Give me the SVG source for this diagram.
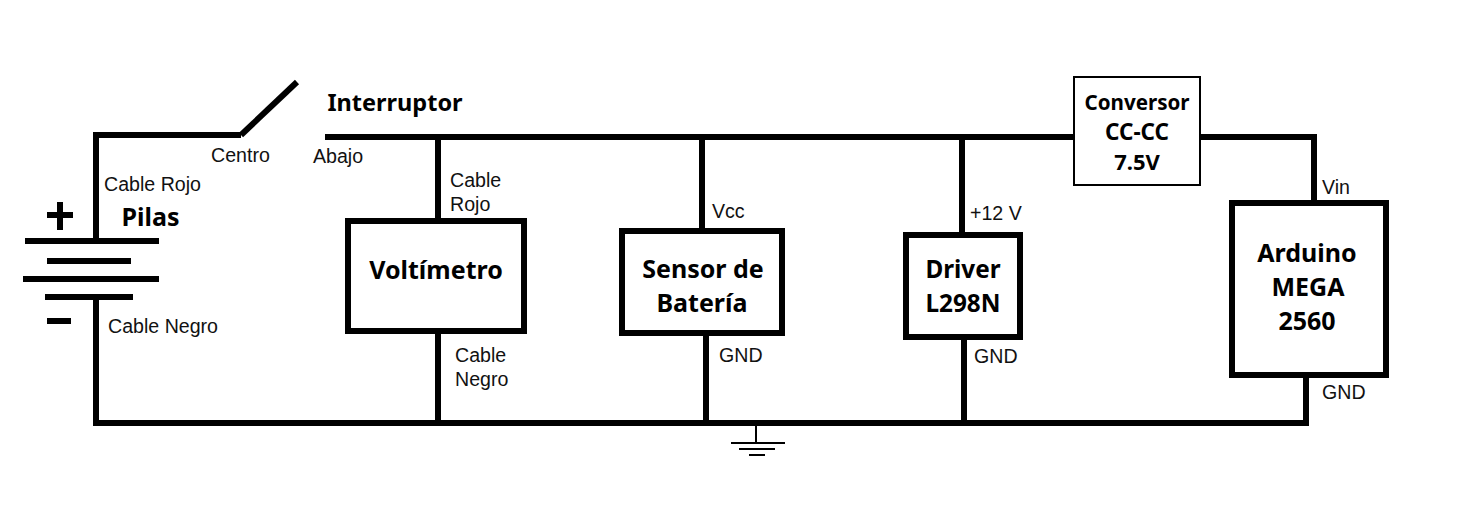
<svg xmlns="http://www.w3.org/2000/svg" width="1457" height="523" viewBox="0 0 1457 523">
<style>
.w{fill:none;stroke:#000;stroke-width:6;shape-rendering:crispEdges}
.g{fill:none;stroke:#000;stroke-width:2;shape-rendering:crispEdges}
.b{fill:#fff;stroke:#000;stroke-width:6;shape-rendering:crispEdges}
.c{fill:#fff;stroke:#000;stroke-width:2;shape-rendering:crispEdges}
.s{fill:#000;shape-rendering:crispEdges}
text{fill:#000}
.l{font:19.6px "Liberation Sans",Arial,sans-serif;fill:#111}
.t{font:bold 25px "Noto Sans",Tahoma,sans-serif;text-anchor:middle}
.t2{font:bold 22px "Noto Sans",Tahoma,sans-serif;text-anchor:middle}
</style>
<rect width="1457" height="523" fill="#fff"/>
<g id="connectors">
<path class="w" d="M241 135H96V241"/>
<path d="M241 135L297 82" fill="none" stroke="#000" stroke-width="6"/>
<path class="w" d="M325 137H1074"/>
<path class="w" d="M1200 137H1314V203"/>
<path class="w" d="M96 297V423H1306V375"/>
<path class="w" d="M438 137V221"/>
<path class="w" d="M438 331V423"/>
<path class="w" d="M702 137V231"/>
<path class="w" d="M706 333V423"/>
<path class="w" d="M962 137V235"/>
<path class="w" d="M964 337V423"/>
<text class="l" x="211" y="162">Centro</text>
<text class="l" x="313" y="163">Abajo</text>
<text class="l" x="104" y="191">Cable Rojo</text>
<text class="l" x="108" y="333">Cable Negro</text>
<text class="l" x="450" y="187">Cable</text>
<text class="l" x="450" y="211">Rojo</text>
<text class="l" x="455" y="362">Cable</text>
<text class="l" x="455" y="386">Negro</text>
<text class="l" x="712" y="218">Vcc</text>
<text class="l" x="719" y="362">GND</text>
<text class="l" x="970" y="220">+12 V</text>
<text class="l" x="974" y="363">GND</text>
<text class="l" x="1322" y="194">Vin</text>
<text class="l" x="1322" y="399">GND</text>
</g>
<g id="battery">
<path class="w" d="M25 241H159M47 261H131M23 279H159M45 297H133"/>
<rect class="s" x="47" y="212" width="26" height="6"/>
<rect class="s" x="57" y="202" width="6" height="28"/>
<rect class="s" x="47" y="318" width="24" height="6"/>
<text class="t" x="150.500" y="226">Pilas</text>
</g>
<g id="interruptor"><text class="t" style="font-size:23.5px" x="395" y="111">Interruptor</text></g>
<g id="voltimetro"><rect class="b" x="348" y="221" width="176" height="110"/><text class="t" x="436" y="279">Voltímetro</text></g>
<g id="sensor"><rect class="b" x="622" y="231" width="160" height="102"/><text class="t" x="703" y="278">Sensor de</text><text class="t" x="702" y="312">Batería</text></g>
<g id="driver"><rect class="b" x="906" y="235" width="114" height="102"/><text class="t" style="font-size:24.300px" x="963" y="278">Driver</text><text class="t" style="font-size:24.300px" x="963" y="312">L298N</text></g>
<g id="conversor"><rect class="c" x="1074" y="77" width="126" height="108"/><text class="t2" style="font-size:20.600px" x="1137" y="110">Conversor</text><text class="t2" style="font-size:22.500px" x="1137" y="140">CC-CC</text><text class="t2" x="1137" y="170">7.5V</text></g>
<g id="arduino"><rect class="b" x="1232" y="203" width="154" height="172"/><text class="t" x="1307" y="262">Arduino</text><text class="t" x="1308" y="296">MEGA</text><text class="t" x="1307" y="330">2560</text></g>
<g id="ground"><path class="g" d="M756 426V443M731 443H785M739 449H775M749 455H765"/></g>
</svg>
